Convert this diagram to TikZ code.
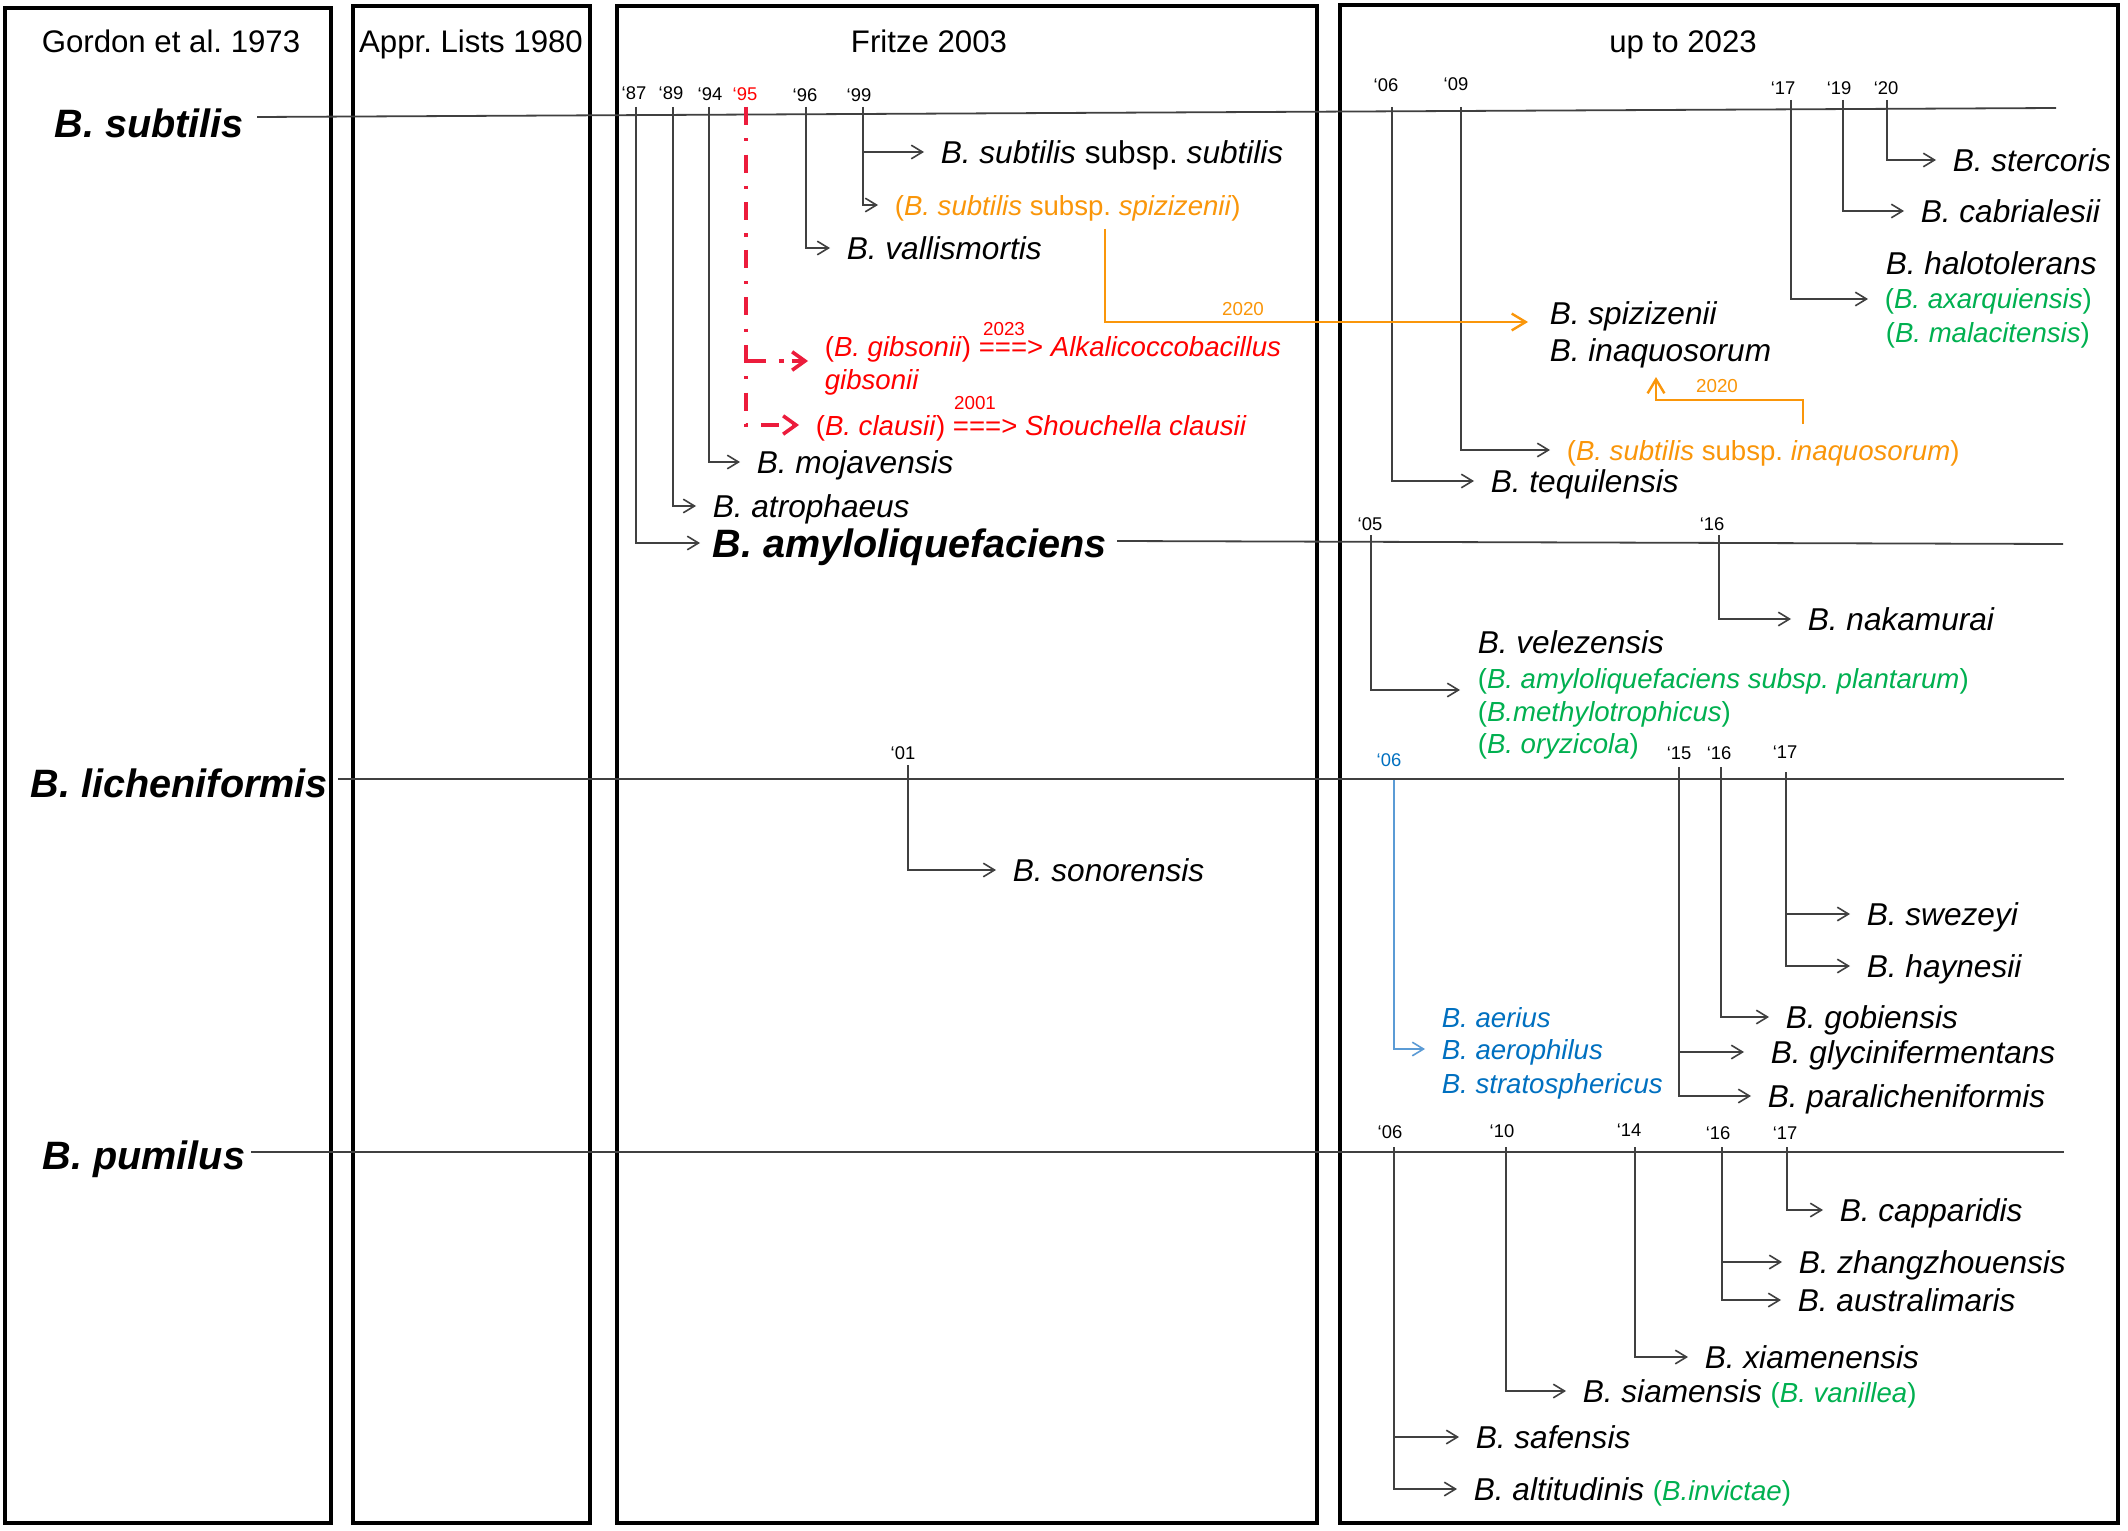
\documentclass[tikz,border=0pt]{standalone}
\usepackage{fontspec}
\setmainfont{Liberation Sans}
\usetikzlibrary{arrows.meta,calc}
\frenchspacing
\definecolor{ora}{RGB}{250,150,10}
\definecolor{grn}{RGB}{0,176,80}
\definecolor{blu}{RGB}{0,112,192}
\definecolor{lblu}{RGB}{91,155,213}
\definecolor{rd}{RGB}{255,0,0}
\definecolor{rdl}{RGB}{236,28,60}
\definecolor{ln}{RGB}{64,64,64}
\newcommand\spf{\fontsize{7.9}{9}\selectfont}
\newcommand\cof{\fontsize{6.9}{8}\selectfont}
\newcommand\hdf{\fontsize{7.8}{9}\selectfont}
\newcommand\bgf{\fontsize{9.9}{11}\selectfont}
\newcommand\yrf{\fontsize{4.6}{5}\selectfont}
\newcommand\smf{\fontsize{4.7}{5}\selectfont}
\begin{document}
\begin{tikzpicture}[x=0.25pt,y=-0.25pt,
 box/.style={draw=black,line width=1pt},
 hd/.style={font=\hdf,inner sep=0pt,text height=5.6pt,text depth=0pt},
 big/.style={font=\bgf\bfseries\itshape,inner sep=0pt,text height=7.1pt,text depth=0pt,anchor=west},
 sp/.style={font=\spf,inner xsep=4pt,inner ysep=0pt,text height=5.7pt,text depth=0pt,anchor=west},
 col/.style={font=\cof,inner xsep=4pt,inner ysep=0pt,text height=5pt,text depth=0pt,anchor=west},
 yr/.style={font=\yrf,inner sep=0pt,text height=3.3pt,text depth=0pt},
 yrs/.style={font=\smf,inner sep=0pt,text height=3.4pt,text depth=0pt},
 tl/.style={draw=ln,line width=0.45pt},
 conn/.style={draw=ln,line width=0.4pt,-{Straight Barb[length=2.8pt,width=3.4pt]}},
 oconn/.style={draw=ora,line width=0.6pt,-{Straight Barb[length=3.5pt,width=4.2pt]}},
 bconn/.style={draw=lblu,line width=0.4pt,-{Straight Barb[length=2.8pt,width=3.4pt]}},
 rconn/.style={draw=rdl,line width=0.9pt,dash pattern=on 4.5pt off 3.3pt on 0.8pt off 3.3pt,-{Straight Barb[length=3.2pt,width=4.6pt]}},
]
\fill[white] (0,0) rectangle (2128,1530);
\useasboundingbox (0,0) rectangle (2128,1530);

% column boxes
\draw[box] (5,8) rectangle (331,1523);
\draw[box] (353,6) rectangle (590,1523);
\draw[box] (617,6) rectangle (1317,1523);
\draw[box] (1340,5) rectangle (2118,1523);

% headers
\node[hd] (h1) at (171,41) {Gordon et al. 1973};
\node[hd] (h2) at (471,41) {Appr. Lists 1980};
\node[hd] (h3) at (929,41) {Fritze 2003};
\node[hd] (h4) at (1683,41) {up to 2023};

% main species
\node[big] (subt) at (54,123) {B. subtilis};
\node[big] (lich) at (30,783) {B. licheniformis};
\node[big] (pumi) at (42,1155) {B. pumilus};
\node[big] (amy) at (712,543) {B. amyloliquefaciens};

% time lines
\coordinate (subL) at (257,117); \coordinate (subR) at (2056,108);
\coordinate (amyL) at (1117,541); \coordinate (amyR) at (2063,544);
\coordinate (licL) at (338,779); \coordinate (licR) at (2064,779);
\coordinate (pumL) at (251,1152); \coordinate (pumR) at (2064,1152);
\draw[tl] (subL) -- (subR);
\draw[tl] (amyL) -- (amyR);
\draw[tl] (licL) -- (licR);
\draw[tl] (pumL) -- (pumR);

% ---------- Fritze 2003, subtilis ----------
\node[yr] (y87) at (634,93) {‘87};
\node[yr] (y89) at (671,93) {‘89};
\node[yr] (y94) at (710,94) {‘94};
\node[yr,text=rd] (y95) at (745,94) {‘95};
\node[yr] (y96) at (805,95) {‘96};
\node[yr] (y99) at (859,95) {‘99};
\coordinate (t87) at (636,107);
\coordinate (t89) at (673,107);
\coordinate (t94) at (709,107);
\coordinate (t95) at (746,107);
\coordinate (t96) at (806,107);
\coordinate (t99) at (863,107);

\node[sp] (sss) at (924,152) {\textit{B. subtilis} subsp. \textit{subtilis}};
\node[col,text=ora] (spiz) at (878,205) {(\textit{B. subtilis} subsp. \textit{spizizenii})};
\node[sp] (vall) at (830,248) {\textit{B. vallismortis}};
\node[col,text=rd] (gib) at (808,346) {(\textit{B. gibsonii}) ===> \textit{Alkalicoccobacillus}};
\node[col,text=rd] (gib2) at (808,379) {\textit{gibsonii}};
\node[yrs,text=rd] (y2023) at (1004,329) {2023};
\node[col,text=rd] (clau) at (799,425) {(\textit{B. clausii}) ===> \textit{Shouchella clausii}};
\node[yrs,text=rd] (y2001) at (975,403) {2001};
\node[sp] (moj) at (740,462) {\textit{B. mojavensis}};
\node[sp] (atr) at (696,506) {\textit{B. atrophaeus}};

\draw[conn] (t87) |- ([xshift=-3pt]amy.west);
\draw[conn] (t89) |- (atr.west);
\draw[conn] (t94) |- (moj.west);
\draw[conn] (t96) |- (vall.west);
\draw[conn] (t99) |- (sss.west);
\draw[conn] (t99) |- (spiz.west);
\coordinate (gibS) at (746,361); \coordinate (gibT) at (808,361);
\draw[rconn] (t95) |- (clau.west);
\draw[rconn,dash pattern=on 5pt off 3.2pt on 1.2pt off 2pt] (gibS) -- (gibT);

% ---------- Fritze 2003, licheniformis ----------
\node[yr] (y01) at (903,753) {‘01};
\coordinate (t01) at (908,765);
\node[sp] (sono) at (996,870) {\textit{B. sonorensis}};
\draw[conn] (t01) |- (sono.west);

% ---------- up to 2023, subtilis ----------
\node[yr] (y06a) at (1386,85) {‘06};
\node[yr] (y09) at (1456,84) {‘09};
\node[yr] (y17a) at (1783,88) {‘17};
\node[yr] (y19) at (1839,88) {‘19};
\node[yr] (y20) at (1886,88) {‘20};
\coordinate (t06a) at (1392,107);
\coordinate (t09) at (1461,107);
\coordinate (t17a) at (1791,100);
\coordinate (t19) at (1843,100);
\coordinate (t20) at (1887,100);

\node[sp] (sterc) at (1936,160) {\textit{B. stercoris}};
\node[sp] (cabr) at (1904,211) {\textit{B. cabrialesii}};
\node[sp] (halo) at (1869,263) {\textit{B. halotolerans}};
\node[col,text=grn] (axar) at (1868,299) {(\textit{B. axarquiensis})};
\node[col,text=grn] (mala) at (1869,332) {(\textit{B. malacitensis})};
\node[sp] (spizN) at (1533,313) {\textit{B. spizizenii}};
\node[sp] (inaq) at (1533,350) {\textit{B. inaquosorum}};
\node[col,text=ora] (subinaq) at (1550,450) {(\textit{B. subtilis} subsp. \textit{inaquosorum})};
\node[sp] (tequ) at (1474,481) {\textit{B. tequilensis}};

\draw[conn] (t06a) |- (tequ.west);
\draw[conn] (t09) |- (subinaq.west);
\draw[conn] (t17a) |- (axar.west);
\draw[conn] (t19) |- (cabr.west);
\draw[conn] (t20) |- (sterc.west);

% orange reclassification arrows
\coordinate (o1) at (1105,229); \coordinate (o1t) at (1528,322);
\draw[oconn] (o1) |- (o1t);
\node[yrs,text=ora] (l2020a) at (1243,309) {2020};
\coordinate (o2) at (1803,424); \coordinate (o2t) at (1656,377);
\draw[oconn] (o2) -- ++(0,-24) -| (o2t);
\node[yrs,text=ora] (l2020b) at (1717,386) {2020};

% ---------- up to 2023, amyloliquefaciens ----------
\node[yr] (y05) at (1370,524) {‘05};
\node[yr] (y16a) at (1712,524) {‘16};
\coordinate (t05) at (1371,535);
\coordinate (t16a) at (1719,535);
\node[sp] (naka) at (1791,619) {\textit{B. nakamurai}};
\node[sp] (vele) at (1461,642) {\textit{B. velezensis}};
\node[col,text=grn] (plant) at (1461,678) {(\textit{B. amyloliquefaciens subsp. plantarum})};
\node[col,text=grn] (methyl) at (1461,711) {(\textit{B.methylotrophicus})};
\node[col,text=grn] (oryz) at (1461,743) {(\textit{B. oryzicola})};
\coordinate (velT) at (1460,690);
\draw[conn] (t05) |- (velT);
\draw[conn] (t16a) |- (naka.west);

% ---------- up to 2023, licheniformis ----------
\node[yr,text=blu] (y06b) at (1389,760) {‘06};
\node[yr] (y15) at (1679,753) {‘15};
\node[yr] (y16b) at (1719,753) {‘16};
\node[yr] (y17b) at (1785,752) {‘17};
\coordinate (t06b) at (1394,780);
\coordinate (t15) at (1679,767);
\coordinate (t16b) at (1721,767);
\coordinate (t17b) at (1786,772);

\node[sp] (swez) at (1850,914) {\textit{B. swezeyi}};
\node[sp] (hayn) at (1850,966) {\textit{B. haynesii}};
\node[sp] (gobi) at (1769,1017) {\textit{B. gobiensis}};
\node[sp] (glyc) at (1754,1052) {\textit{B. glycinifermentans}};
\node[sp] (para) at (1751,1096) {\textit{B. paralicheniformis}};
\node[col,text=blu] (aer) at (1425,1017) {\textit{B. aerius}};
\node[col,text=blu] (aeroph) at (1425,1049) {\textit{B. aerophilus}};
\node[col,text=blu] (strat) at (1425,1083) {\textit{B. stratosphericus}};

\draw[conn] (t17b) |- (swez.west);
\draw[conn] (t17b) |- (hayn.west);
\draw[conn] (t16b) |- (gobi.west);
\draw[conn] (t15) |- ([xshift=-2.5pt]glyc.west);
\draw[conn] (t15) |- (para.west);
\draw[bconn] (t06b) |- (aeroph.west);

% ---------- up to 2023, pumilus ----------
\node[yr] (y06c) at (1390,1132) {‘06};
\node[yr] (y10) at (1502,1131) {‘10};
\node[yr] (y14) at (1629,1130) {‘14};
\node[yr] (y16c) at (1718,1133) {‘16};
\node[yr] (y17c) at (1785,1133) {‘17};
\coordinate (t06c) at (1394,1147);
\coordinate (t10) at (1506,1147);
\coordinate (t14) at (1635,1147);
\coordinate (t16c) at (1722,1147);
\coordinate (t17c) at (1787,1147);

\node[sp] (capp) at (1823,1210) {\textit{B. capparidis}};
\node[sp] (zhang) at (1782,1262) {\textit{B. zhangzhouensis}};
\node[sp] (austr) at (1781,1300) {\textit{B. australimaris}};
\node[sp] (xiam) at (1688,1357) {\textit{B. xiamenensis}};
\node[sp] (siam) at (1566,1391) {\textit{B. siamensis} {\cof\color{grn}(\textit{B. vanillea})}};
\node[sp] (safe) at (1459,1437) {\textit{B. safensis}};
\node[sp] (alti) at (1457,1489) {\textit{B. altitudinis} {\cof\color{grn}(\textit{B.invictae})}};

\draw[conn] (t17c) |- (capp.west);
\draw[conn] (t16c) |- (zhang.west);
\draw[conn] (t16c) |- (austr.west);
\draw[conn] (t14) |- (xiam.west);
\draw[conn] (t10) |- (siam.west);
\draw[conn] (t06c) |- (safe.west);
\draw[conn] (t06c) |- (alti.west);
\end{tikzpicture}
\end{document}
